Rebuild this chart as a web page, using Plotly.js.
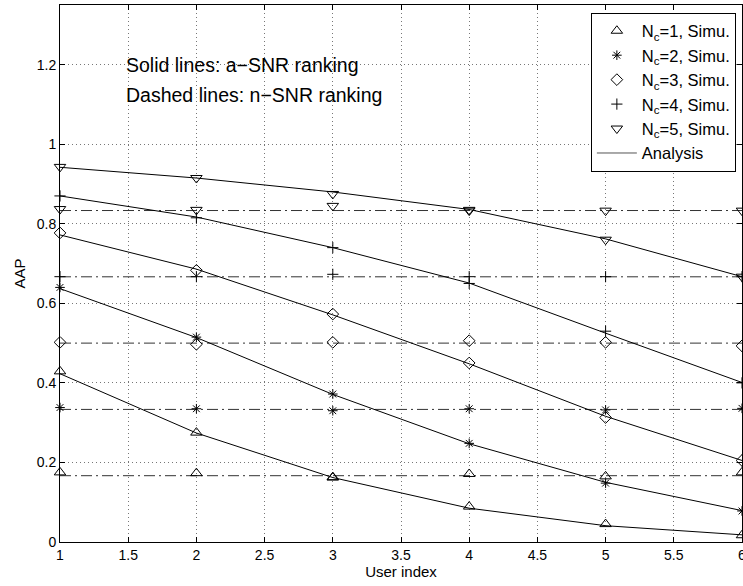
<!DOCTYPE html>
<html>
<head>
<meta charset="utf-8">
<script src="https://cdn.plot.ly/plotly-3.0.1.min.js"></script>
<style>html,body{margin:0;padding:0;background:#fff;}#chart{width:743px;height:586px;}</style>
</head>
<body>
<div id="chart"></div>
<script>
// User index
const userIndex = [1, 2, 3, 4, 5, 6];
const ncLabels = ["N<sub>c</sub>=1, Simu.", "N<sub>c</sub>=2, Simu.", "N<sub>c</sub>=3, Simu.", "N<sub>c</sub>=4, Simu.", "N<sub>c</sub>=5, Simu."];

// a-SNR ranking: analysis (solid lines)
const aAnalysisNc1 = [0.423, 0.274, 0.162, 0.085, 0.041, 0.018];
const aAnalysisNc2 = [0.637, 0.514, 0.371, 0.247, 0.150, 0.079];
const aAnalysisNc3 = [0.772, 0.686, 0.571, 0.448, 0.316, 0.205];
const aAnalysisNc4 = [0.870, 0.817, 0.740, 0.651, 0.525, 0.401];
const aAnalysisNc5 = [0.942, 0.915, 0.880, 0.836, 0.762, 0.667];

// a-SNR ranking: simulation markers
const aSimuNc1 = [0.429, 0.275, 0.163, 0.089, 0.045, 0.017];
const aSimuNc2 = [0.640, 0.515, 0.372, 0.248, 0.148, 0.078];
const aSimuNc3 = [0.777, 0.683, 0.573, 0.450, 0.313, 0.205];
const aSimuNc4 = [0.870, 0.815, 0.740, 0.650, 0.530, 0.400];
const aSimuNc5 = [0.943, 0.915, 0.875, 0.835, 0.760, 0.667];

// n-SNR ranking: analysis (dash-dot lines)
const nAnalysisNc1 = [0.1667, 0.1667, 0.1667, 0.1667, 0.1667, 0.1667];
const nAnalysisNc2 = [0.3333, 0.3333, 0.3333, 0.3333, 0.3333, 0.3333];
const nAnalysisNc3 = [0.5, 0.5, 0.5, 0.5, 0.5, 0.5];
const nAnalysisNc4 = [0.6667, 0.6667, 0.6667, 0.6667, 0.6667, 0.6667];
const nAnalysisNc5 = [0.8333, 0.8333, 0.8333, 0.8333, 0.8333, 0.8333];

// n-SNR ranking: simulation markers
const nSimuNc1 = [0.175, 0.173, 0.162, 0.171, 0.165, 0.175];
const nSimuNc2 = [0.338, 0.335, 0.330, 0.335, 0.332, 0.336];
const nSimuNc3 = [0.502, 0.497, 0.502, 0.506, 0.502, 0.493];
const nSimuNc4 = [0.667, 0.667, 0.673, 0.667, 0.667, 0.667];
const nSimuNc5 = [0.837, 0.835, 0.845, 0.833, 0.833, 0.833];

const aAnalysis = [aAnalysisNc1, aAnalysisNc2, aAnalysisNc3, aAnalysisNc4, aAnalysisNc5];
const aSimu = [aSimuNc1, aSimuNc2, aSimuNc3, aSimuNc4, aSimuNc5];
const nAnalysis = [nAnalysisNc1, nAnalysisNc2, nAnalysisNc3, nAnalysisNc4, nAnalysisNc5];
const nSimu = [nSimuNc1, nSimuNc2, nSimuNc3, nSimuNc4, nSimuNc5];

const symbols = ["triangle-up-open", "asterisk-open", "diamond-open", "cross-thin-open", "triangle-down-open"];
const sizes = [10, 8, 9, 8, 10];

const traces = [];
// n-SNR dash-dot lines
nAnalysis.forEach(function (ys) {
  traces.push({x: userIndex, y: ys, mode: 'lines', showlegend: false, hoverinfo: 'skip',
    line: {color: '#333', width: 1, dash: '11px,4px,2px,4px'}});
});
// analysis solid lines
aAnalysis.forEach(function (ys) {
  traces.push({x: userIndex, y: ys, mode: 'lines', showlegend: false, hoverinfo: 'skip',
    line: {color: '#000', width: 1}});
});
// n-SNR simulation markers
nSimu.forEach(function (ys, i) {
  traces.push({x: userIndex, y: ys, mode: 'markers', showlegend: false, cliponaxis: false,
    marker: {symbol: symbols[i], size: sizes[i], color: '#000', line: {color: '#000', width: 1}}});
});
// a-SNR simulation markers (legend)
aSimu.forEach(function (ys, i) {
  traces.push({x: userIndex, y: ys, mode: 'markers', name: ncLabels[i], cliponaxis: false,
    legendrank: i + 1,
    marker: {symbol: symbols[i], size: sizes[i], color: '#000', line: {color: '#000', width: 1}}});
});
// legend-only analysis entry
traces.push({x: [null], y: [null], mode: 'lines', name: 'Analysis', legendrank: 6,
  line: {color: '#555', width: 1}});

const axisCommon = {
  showline: true, linecolor: '#000', linewidth: 1, mirror: 'ticks',
  ticks: 'inside', ticklen: 5, tickcolor: '#000', tickwidth: 1,
  showgrid: true, gridcolor: '#777', gridwidth: 1, griddash: '1px,3px',
  zeroline: false, ticklabeloverflow: 'allow',
  tickfont: {family: 'Liberation Sans, Arial, sans-serif', size: 14, color: '#000'}
};

const layout = {
  width: 743, height: 586,
  margin: {l: 60, r: 1, t: 5, b: 44},
  paper_bgcolor: '#fff', plot_bgcolor: '#fff',
  font: {family: 'Liberation Sans, Arial, sans-serif', color: '#000'},
  xaxis: Object.assign({}, axisCommon, {
    range: [1, 6], tickvals: [1, 1.5, 2, 2.5, 3, 3.5, 4, 4.5, 5, 5.5, 6],
    ticktext: ['1', '1.5', '2', '2.5', '3', '3.5', '4', '4.5', '5', '5.5', '6'],
    title: {text: 'User index', font: {size: 15, color: '#000'}, standoff: 4}
  }),
  yaxis: Object.assign({}, axisCommon, {
    range: [0, 1.35], tickvals: [0, 0.2, 0.4, 0.6, 0.8, 1, 1.2],
    ticktext: ['0', '0.2', '0.4', '0.6', '0.8', '1', '1.2'],
    title: {text: 'AAP', font: {size: 15, color: '#000'}, standoff: 7}
  }),
  legend: {
    x: 0.991, xanchor: 'right', y: 0.986, yanchor: 'top',
    bgcolor: '#fff', bordercolor: '#000', borderwidth: 1,
    font: {family: 'Liberation Sans, Arial, sans-serif', size: 16.5, color: '#000'},
    itemwidth: 40, tracegroupgap: 0
  },
  annotations: [
    {xref: 'paper', yref: 'paper', x: (124 - 60) / 682, y: 1 - (65 - 5) / 537, xanchor: 'left', yanchor: 'middle',
      text: 'Solid lines: a\u2212SNR ranking', showarrow: false, font: {size: 19.5, color: '#000'}},
    {xref: 'paper', yref: 'paper', x: (124 - 60) / 682, y: 1 - (95 - 5) / 537, xanchor: 'left', yanchor: 'middle',
      text: 'Dashed lines: n\u2212SNR ranking', showarrow: false, font: {size: 19.5, color: '#000'}}
  ]
};

Plotly.newPlot('chart', traces, layout, {displayModeBar: false, staticPlot: true});
</script>
</body>
</html>
